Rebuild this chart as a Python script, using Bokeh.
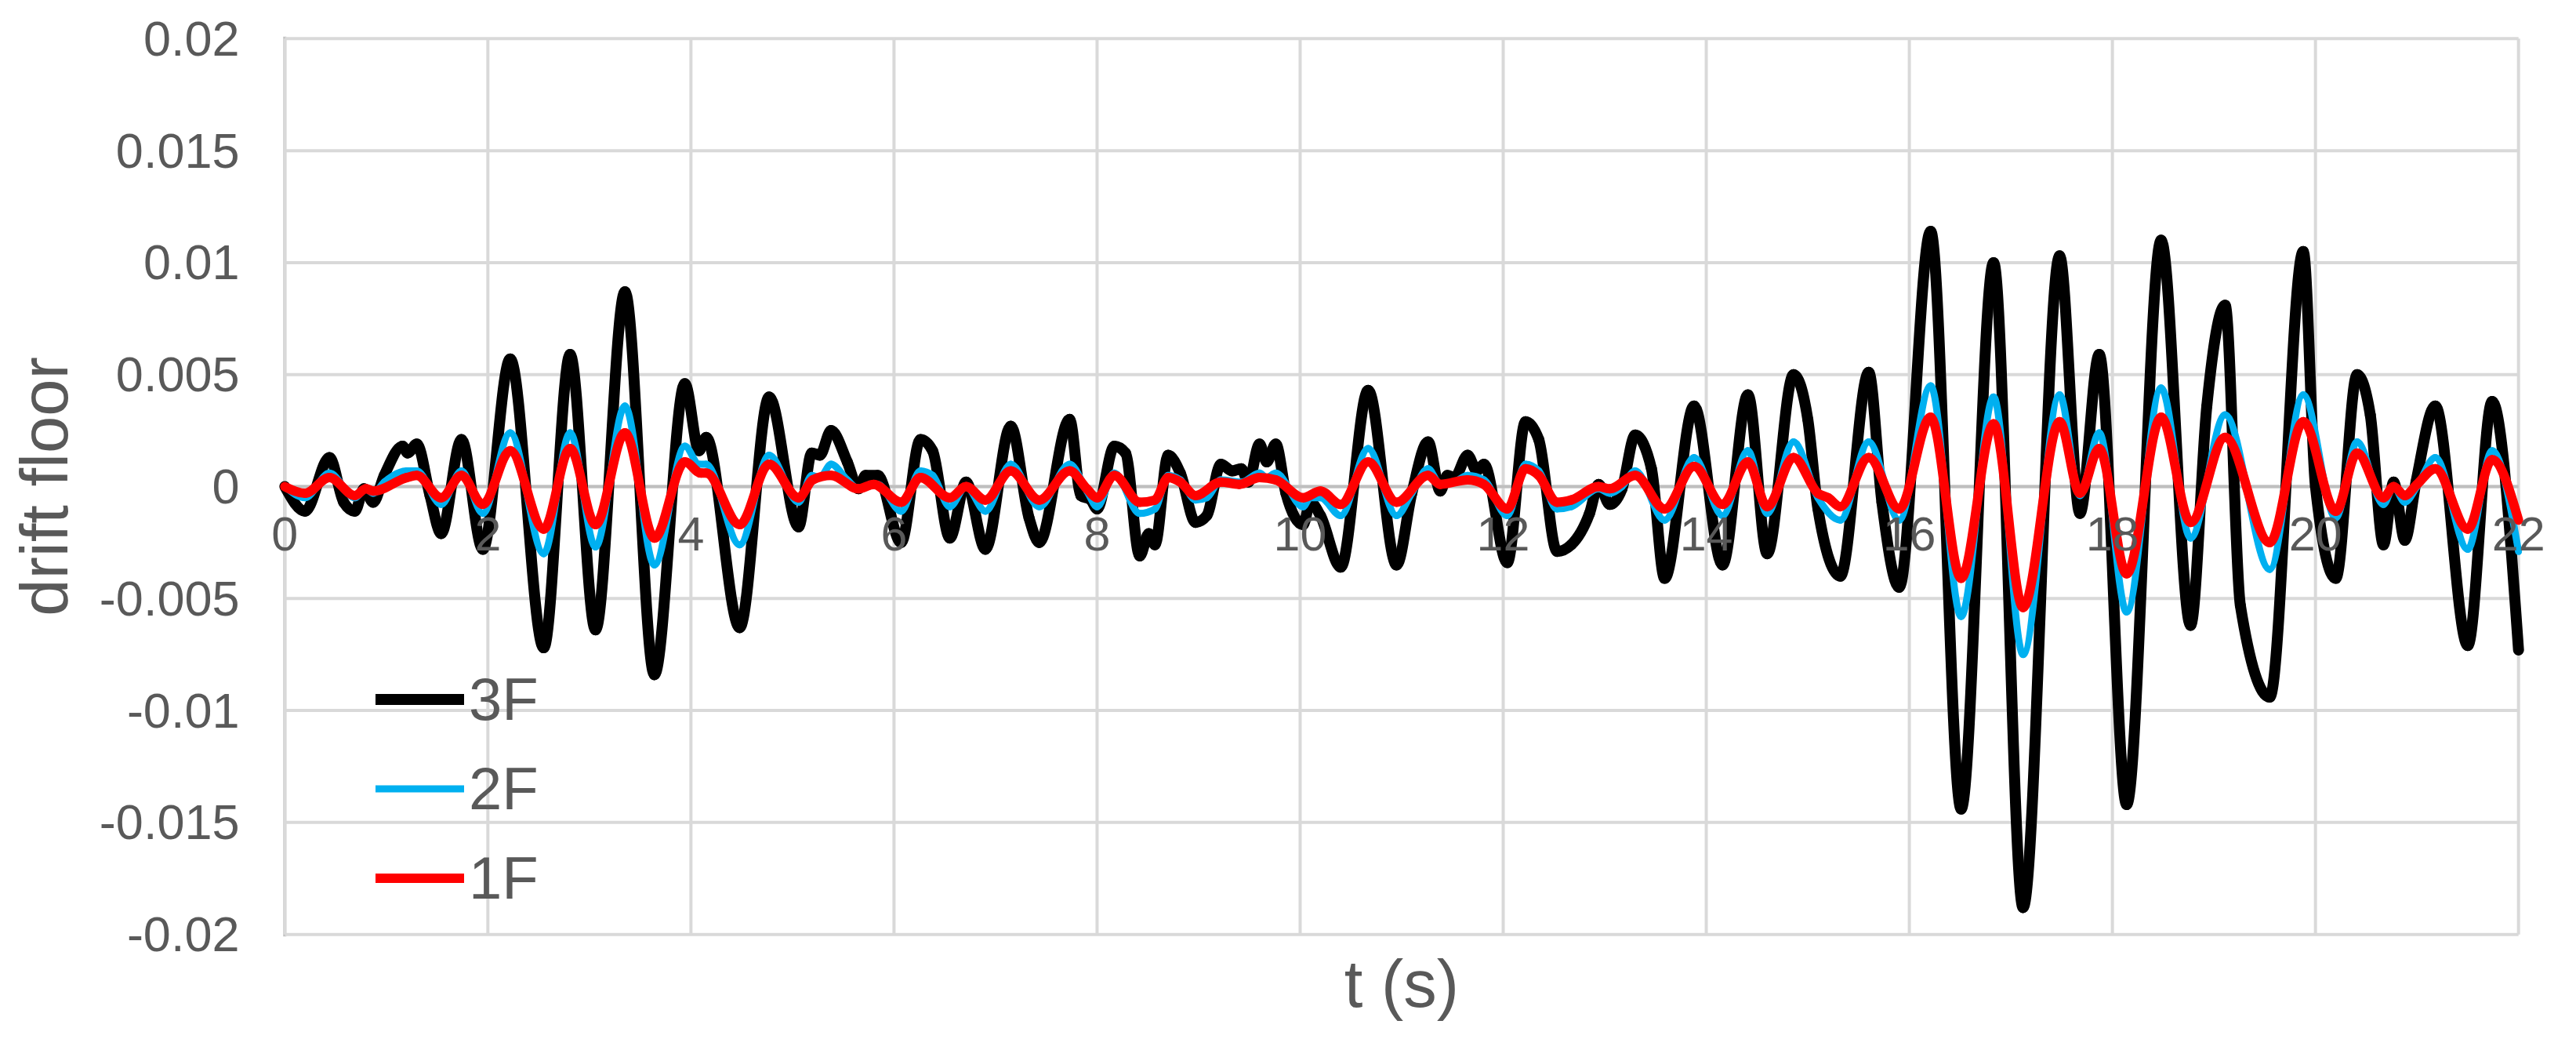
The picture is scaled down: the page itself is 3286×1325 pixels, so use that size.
from bokeh.plotting import figure
from bokeh.models import Range1d, FixedTicker, Span, Legend, LegendItem, Label
from bokeh.embed import file_html
from bokeh.resources import INLINE

# ---------------- data ----------------
x_ticks = [0, 2, 4, 6, 8, 10, 12, 14, 16, 18, 20, 22]
x_tick_labels = ["0", "2", "4", "6", "8", "10", "12", "14", "16", "18", "20", "22"]
y_ticks = [-0.02, -0.015, -0.01, -0.005, 0, 0.005, 0.01, 0.015, 0.02]
y_tick_labels = ["-0.02", "-0.015", "-0.01", "-0.005", "0", "0.005", "0.01", "0.015", "0.02"]

series_names = ["3F", "2F", "1F"]

t_3f = [0, 0.2, 0.44, 0.58, 0.69, 0.78, 0.87, 0.98, 1.16, 1.21, 1.30, 1.43, 1.54, 1.74, 1.95,
        2.22, 2.55, 2.81, 3.06, 3.35, 3.64, 3.94, 4.08, 4.15, 4.48, 4.77, 5.06, 5.19, 5.27, 5.38,
        5.54, 5.65, 5.72, 5.84, 6.07, 6.26, 6.38, 6.55, 6.71, 6.9, 7.15, 7.33, 7.43, 7.73, 7.84,
        7.94, 8.0, 8.17, 8.28, 8.42, 8.51, 8.57, 8.70, 8.82, 8.97, 9.08, 9.22, 9.33, 9.42, 9.49,
        9.6, 9.67, 9.76, 9.86, 10.03, 10.1, 10.2, 10.4, 10.67, 10.95, 11.1, 11.26, 11.38, 11.45,
        11.52, 11.65, 11.74, 11.81, 12.04, 12.22, 12.35, 12.53, 12.67, 12.85, 12.94, 13.05, 13.17,
        13.3, 13.46, 13.59, 13.88, 14.16, 14.41, 14.6, 14.86, 15.0, 15.1, 15.32, 15.6, 15.73, 15.9,
        16.21, 16.51, 16.83, 17.12, 17.48, 17.68, 17.87, 18.14, 18.48, 18.77, 18.93, 19.11, 19.26,
        19.55, 19.88, 20.0, 20.2, 20.41, 20.54, 20.67, 20.77, 20.88, 20.99, 21.18, 21.5, 21.74,
        22.0]
drift_3f = [0, -0.0011, 0.0013, -0.0007, -0.0011, -0.0001, -0.0007, 0.0005, 0.0018, 0.0015, 0.0019,
            -0.0004, -0.0021, 0.0021, -0.0028, 0.0057, -0.0072, 0.0059, -0.0064, 0.0087, -0.0084,
            0.0046, 0.0016, 0.0022, -0.0063, 0.0040, -0.0018, 0.0015, 0.0014, 0.0025, 0.0011,
            -0.0001, 0.0005, 0.0005, -0.0025, 0.0021, 0.0016, -0.0023, 0.0002, -0.0028, 0.0027,
            -0.0014, -0.0025, 0.0030, -0.0004, -0.0006, -0.0010, 0.0018, 0.0015, -0.0031, -0.0021,
            -0.0026, 0.0014, 0.0006, -0.0016, -0.0013, 0.0010, 0.0007, 0.0008, 0.0002, 0.0019,
            0.0011, 0.0019, -0.0003, -0.0017, -0.0007, -0.0013, -0.0036, 0.0043, -0.0035, -0.0003,
            0.0020, -0.0002, 0.0005, 0.0004, 0.0014, 0.0007, 0.0010, -0.0034, 0.0029, 0.0021,
            -0.0029, -0.0026, -0.0012, 0.0001, -0.0008, -0.0001, 0.0023, 0.0008, -0.0041, 0.0036,
            -0.0035, 0.0041, -0.0030, 0.0050, 0.0030, -0.0010, -0.0040, 0.0051, -0.0007, -0.0045,
            0.0114, -0.0144, 0.0100, -0.0188, 0.0103, -0.0012, 0.0059, -0.0142, 0.0110, -0.0062,
            0.0036, 0.0081, -0.0053, -0.0094, 0.0105, 0.0000, -0.0041, 0.0050, 0.0032, -0.0026,
            0.0002, -0.0024, 0.0002, 0.0036, -0.0071, 0.0038, -0.0073]

t_2f = [0, 0.2, 0.44, 0.69, 0.8, 0.87, 0.98, 1.2, 1.3, 1.54, 1.74, 1.95, 2.22, 2.55, 2.81, 3.06,
        3.35, 3.64, 3.94, 4.08, 4.15, 4.48, 4.77, 5.06, 5.19, 5.27, 5.38, 5.54, 5.65, 5.84, 6.07,
        6.26, 6.38, 6.55, 6.71, 6.9, 7.15, 7.43, 7.73, 7.9, 8.0, 8.17, 8.42, 8.57, 8.70, 8.82,
        8.97, 9.08, 9.22, 9.42, 9.6, 9.67, 9.76, 10.03, 10.1, 10.2, 10.4, 10.67, 10.95, 11.1,
        11.26, 11.38, 11.52, 11.65, 11.81, 12.04, 12.22, 12.35, 12.53, 12.67, 12.94, 13.05, 13.17,
        13.3, 13.59, 13.88, 14.16, 14.41, 14.6, 14.86, 15.1, 15.32, 15.6, 15.9, 16.21, 16.51,
        16.83, 17.12, 17.48, 17.68, 17.87, 18.14, 18.48, 18.77, 19.11, 19.55, 19.88, 20.2, 20.41,
        20.67, 20.77, 20.88, 21.0, 21.18, 21.5, 21.74, 22.0]
drift_2f = [0, -0.0005, 0.0006, -0.0005, -0.0001, -0.0003, 0.0002, 0.0007, 0.0007, -0.0008, 0.0007,
            -0.0012, 0.0024, -0.0030, 0.0024, -0.0027, 0.0036, -0.0035, 0.0018, 0.0010, 0.0010,
            -0.0026, 0.0014, -0.0007, 0.0005, 0.0004, 0.0010, 0.0003, -0.0001, 0.0001, -0.0011,
            0.0007, 0.0005, -0.0009, 0.0000, -0.0011, 0.0010, -0.0009, 0.0010, -0.0002, -0.0009,
            0.0006, -0.0012, -0.0010, 0.0005, 0.0003, -0.0006, -0.0005, 0.0003, 0.0002, 0.0006,
            0.0004, 0.0006, -0.0009, -0.0005, -0.0005, -0.0013, 0.0017, -0.0013, -0.0003, 0.0008,
            0.0001, 0.0002, 0.0005, 0.0003, -0.0013, 0.0010, 0.0007, -0.0010, -0.0009, -0.0001,
            -0.0003, 0.0000, 0.0007, -0.0015, 0.0013, -0.0013, 0.0016, -0.0012, 0.0020, -0.0005,
            -0.0015, 0.0020, -0.0015, 0.0045, -0.0058, 0.0040, -0.0075, 0.0041, -0.0004, 0.0024,
            -0.0056, 0.0044, -0.0023, 0.0032, -0.0037, 0.0041, -0.0014, 0.0020, -0.0008, 0.0000,
            -0.0007, 0.0000, 0.0013, -0.0028, 0.0016, -0.0029]

t_1f = [0, 0.2, 0.44, 0.69, 0.8, 0.87, 1.2, 1.3, 1.54, 1.74, 1.95, 2.22, 2.55, 2.81, 3.06, 3.35,
        3.64, 3.94, 4.1, 4.15, 4.48, 4.77, 5.06, 5.2, 5.38, 5.65, 5.8, 6.07, 6.26, 6.55, 6.71,
        6.9, 7.15, 7.43, 7.73, 7.9, 8.0, 8.17, 8.42, 8.57, 8.70, 8.82, 8.97, 9.22, 9.4, 9.6,
        9.76, 10.03, 10.2, 10.4, 10.67, 10.95, 11.26, 11.38, 11.65, 11.81, 12.04, 12.22, 12.35,
        12.53, 12.67, 12.94, 13.05, 13.3, 13.59, 13.88, 14.16, 14.41, 14.6, 14.86, 15.1, 15.2,
        15.32, 15.6, 15.9, 16.21, 16.51, 16.83, 17.12, 17.48, 17.68, 17.87, 18.14, 18.48, 18.77,
        19.11, 19.55, 19.88, 20.2, 20.41, 20.67, 20.77, 20.88, 21.0, 21.18, 21.5, 21.74, 22.0]
drift_1f = [0, -0.0003, 0.0004, -0.0004, -0.0001, -0.0002, 0.0004, 0.0005, -0.0005, 0.0005, -0.0008,
            0.0016, -0.0019, 0.0017, -0.0017, 0.0024, -0.0023, 0.0011, 0.0006, 0.0006, -0.0017,
            0.0010, -0.0005, 0.0003, 0.0005, -0.0001, 0.0001, -0.0007, 0.0004, -0.0005, 0.0000,
            -0.0006, 0.0007, -0.0006, 0.0007, -0.0001, -0.0005, 0.0005, -0.0007, -0.0006, 0.0004,
            0.0002, -0.0004, 0.0002, 0.0001, 0.0004, 0.0003, -0.0005, -0.0002, -0.0008, 0.0011,
            -0.0007, 0.0005, 0.0001, 0.0003, 0.0001, -0.0010, 0.0008, 0.0005, -0.0007, -0.0006,
            0.0000, -0.0001, 0.0005, -0.0010, 0.0009, -0.0008, 0.0011, -0.0009, 0.0013, -0.0003,
            -0.0005, -0.0009, 0.0013, -0.0010, 0.0031, -0.0041, 0.0028, -0.0054, 0.0029, -0.0003,
            0.0017, -0.0039, 0.0031, -0.0016, 0.0022, -0.0025, 0.0029, -0.0011, 0.0015, -0.0005,
            0.0000, -0.0004, 0.0001, 0.0008, -0.0019, 0.0012, -0.0015]


# Smoothed-line rendering: each segment between two read points is drawn as a cubic Bezier
# (monotone tangents, so the curve never passes beyond a read peak or trough).
def smooth_segments(t, d):
    n = len(t)
    h = [t[i + 1] - t[i] for i in range(n - 1)]
    s = [(d[i + 1] - d[i]) / h[i] for i in range(n - 1)]
    m = [0.0] * n
    for i in range(1, n - 1):
        if s[i - 1] * s[i] <= 0:
            m[i] = 0.0
        else:
            pm = (s[i - 1] * h[i] + s[i] * h[i - 1]) / (h[i - 1] + h[i])
            sign = 1.0 if s[i] > 0 else -1.0
            m[i] = sign * 2.0 * min(abs(s[i - 1]), abs(s[i]), 0.5 * abs(pm))
    m[0] = (3 * s[0] - m[1]) / 2
    m[-1] = (3 * s[-1] - m[-2]) / 2
    seg = dict(x0=[], y0=[], x1=[], y1=[], cx0=[], cy0=[], cx1=[], cy1=[])
    for i in range(n - 1):
        dx = h[i] / 3.0
        seg["x0"].append(t[i]); seg["y0"].append(d[i])
        seg["x1"].append(t[i + 1]); seg["y1"].append(d[i + 1])
        seg["cx0"].append(t[i] + dx); seg["cy0"].append(d[i] + m[i] * dx)
        seg["cx1"].append(t[i + 1] - dx); seg["cy1"].append(d[i + 1] - m[i + 1] * dx)
    return seg


# ---------------- styling ----------------
FONT = "Liberation Sans"
TXT = "#595959"
GRID = "#D9D9D9"
AXIS = "#BFBFBF"
X_PAD = 0.4       # room (in s) on both sides so the end tick labels are not clipped
Y_PAD = 0.0001    # keeps the outer grid lines whole

p = figure(width=3270, height=1309, output_backend="svg", toolbar_location=None, title=None,
           x_range=Range1d(x_ticks[0] - X_PAD, x_ticks[-1] + X_PAD),
           y_range=Range1d(y_ticks[0] - Y_PAD, y_ticks[-1] + Y_PAD),
           min_border_left=311, min_border_right=6, min_border_top=46, min_border_bottom=115)
p.outline_line_color = None
p.background_fill_color = "white"
p.border_fill_color = "white"
p.xgrid.visible = False
p.ygrid.visible = False

# y axis (its line is drawn at t = 0 below)
p.yaxis.ticker = FixedTicker(ticks=y_ticks)
p.yaxis.major_label_overrides = {t: s for t, s in zip(y_ticks, y_tick_labels)}
p.yaxis.major_label_text_font = FONT
p.yaxis.major_label_text_font_size = "63px"
p.yaxis.major_label_text_color = TXT
p.yaxis.major_tick_line_color = None
p.yaxis.minor_tick_line_color = None
p.yaxis.major_tick_out = 0
p.yaxis.major_tick_in = 0
p.yaxis.major_label_standoff = 6
p.yaxis.axis_line_color = None
p.yaxis.axis_label = "drift floor"
p.yaxis.axis_label_text_font = FONT
p.yaxis.axis_label_text_font_size = "85px"
p.yaxis.axis_label_text_font_style = "normal"
p.yaxis.axis_label_text_color = TXT
p.yaxis.axis_label_standoff = 20

# bottom axis only carries the title; its tick labels sit on the zero line (see below)
p.xaxis.ticker = FixedTicker(ticks=[])
p.xaxis.axis_line_color = None
p.xaxis.major_tick_line_color = None
p.xaxis.minor_tick_line_color = None
p.xaxis.major_tick_out = 0
p.xaxis.major_tick_in = 0
p.xaxis.axis_label = "t (s)"
p.xaxis.axis_label_text_font = FONT
p.xaxis.axis_label_text_font_size = "85px"
p.xaxis.axis_label_text_font_style = "normal"
p.xaxis.axis_label_text_color = TXT
p.xaxis.axis_label_standoff = 12

# grid limited to the plot area 0..22 s, -0.02..0.02
ny = len(y_ticks)
nx = len(x_ticks)
p.segment(x0=[x_ticks[0]] * ny, x1=[x_ticks[-1]] * ny, y0=y_ticks, y1=y_ticks,
          line_color=GRID, line_width=4)
p.segment(x0=x_ticks, x1=x_ticks, y0=[y_ticks[0]] * nx, y1=[y_ticks[-1]] * nx,
          line_color=GRID, line_width=4)
# axis lines: value axis at t = 0, horizontal axis crossing at 0
p.add_layout(Span(location=x_ticks[0], dimension="height", line_color=AXIS, line_width=4,
                  level="underlay"))
p.segment(x0=[x_ticks[0]], x1=[x_ticks[-1]], y0=[0], y1=[0], line_color=AXIS, line_width=4)

for tick, lab in zip(x_ticks, x_tick_labels):
    p.add_layout(Label(x=tick, y=0, text=lab, text_align="center", text_baseline="top",
                       y_offset=-39, text_font=FONT, text_font_size="61px", text_color=TXT))

s3 = smooth_segments(t_3f, drift_3f)
s2 = smooth_segments(t_2f, drift_2f)
s1 = smooth_segments(t_1f, drift_1f)
r3 = p.bezier(source=s3, x0="x0", y0="y0", x1="x1", y1="y1", cx0="cx0", cy0="cy0", cx1="cx1",
              cy1="cy1", line_color="#000000", line_width=14, line_cap="round")
r2 = p.bezier(source=s2, x0="x0", y0="y0", x1="x1", y1="y1", cx0="cx0", cy0="cy0", cx1="cx1",
              cy1="cy1", line_color="#00B0F0", line_width=9, line_cap="round")
r1 = p.bezier(source=s1, x0="x0", y0="y0", x1="x1", y1="y1", cx0="cx0", cy0="cy0", cx1="cx1",
              cy1="cy1", line_color="#FF0000", line_width=12, line_cap="round")

legend = Legend(items=[LegendItem(label=series_names[0], renderers=[r3]),
                       LegendItem(label=series_names[1], renderers=[r2]),
                       LegendItem(label=series_names[2], renderers=[r1])],
                location=(168, 27), orientation="vertical",
                glyph_width=113, glyph_height=95, label_height=95, spacing=19,
                label_standoff=6, padding=0, margin=0,
                border_line_color=None, background_fill_alpha=0,
                label_text_font=FONT, label_text_font_size="76px", label_text_color=TXT)
p.add_layout(legend)

open("out.html", "w").write(file_html(p, INLINE))
